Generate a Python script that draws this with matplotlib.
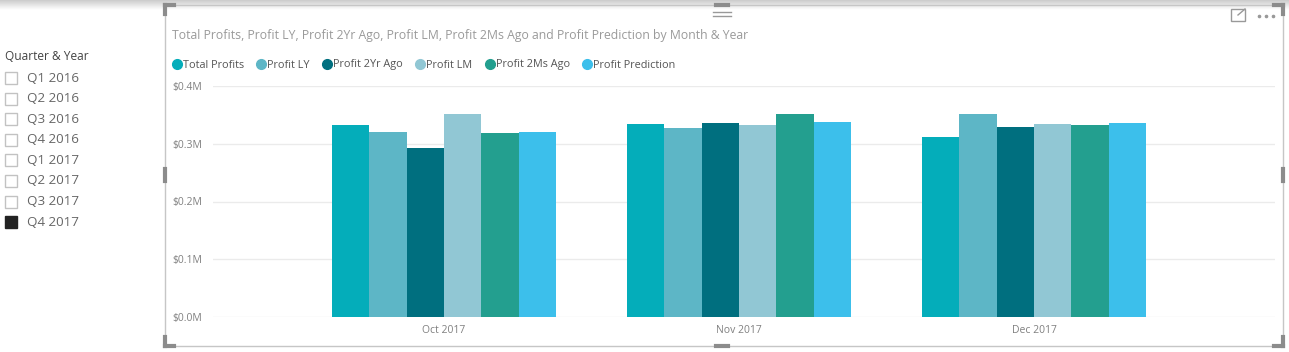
import matplotlib
matplotlib.use('Agg')
import matplotlib.pyplot as plt
import numpy as np
from matplotlib.lines import Line2D
from matplotlib.patches import Rectangle

plt.rcParams['font.family'] = ['Open Sans', 'DejaVu Sans']

# Data (values in $M)
months = ['Oct 2017', 'Nov 2017', 'Dec 2017']
series = ['Total Profits', 'Profit LY', 'Profit 2Yr Ago', 'Profit LM',
          'Profit 2Ms Ago', 'Profit Prediction']
total_profits = [0.332, 0.334, 0.312]
profit_ly = [0.321, 0.328, 0.351]
profit_2yr = [0.292, 0.336, 0.329]
profit_lm = [0.351, 0.332, 0.335]
profit_2ms = [0.319, 0.351, 0.332]
profit_pred = [0.321, 0.337, 0.336]
values = [total_profits, profit_ly, profit_2yr, profit_lm, profit_2ms, profit_pred]
colors = ['#04ADBA', '#5DB6C6', '#006F7F', '#91C7D4', '#239F8F', '#3CBFEB']
yticks = [0.0, 0.1, 0.2, 0.3, 0.4]
slicer_items = ['Q1 2016', 'Q2 2016', 'Q3 2016', 'Q4 2016',
                'Q1 2017', 'Q2 2017', 'Q3 2017', 'Q4 2017']
selected = 'Q4 2017'

W, H = 1289, 352
fig = plt.figure(figsize=(W / 100, H / 100), dpi=100)
fig.patch.set_facecolor('white')


def fx(px):
    return px / W


def fy(py):
    return 1 - py / H


# top grey shadow band
band = fig.add_axes([0, fy(10), 1, 10 / H])
band.imshow(np.linspace(0.80, 1.0, 20).reshape(-1, 1), cmap='gray', vmin=0, vmax=1,
            aspect='auto', extent=[0, 1, 0, 1])
band.axis('off')

# main chart
ax = fig.add_axes([fx(213), fy(317), fx(1275) - fx(213), fy(86) - fy(317)])
x = np.arange(len(months))
bw = 0.1266
for i, (name, vals) in enumerate(zip(series, values)):
    ax.bar(x + (i - 2.5) * bw, vals, bw, color=colors[i], label=name, zorder=2)

ax.set_xlim(-0.783, 2.817)
ax.set_ylim(0, 0.4)
ax.set_yticks(yticks)
ax.set_yticklabels([f'${v:.1f}M' for v in yticks])
ax.set_xticks(x)
ax.set_xticklabels(months)
ax.grid(axis='y', color='#EBEBEB', linewidth=1, zorder=0)
for s in ax.spines.values():
    s.set_visible(False)
ax.tick_params(length=0, colors='#808080', labelsize=7.5)
ax.tick_params(axis='y', pad=8)
ax.tick_params(axis='x', pad=6)
ax.set_facecolor('none')

# title and legend
fig.text(fx(172), fy(36), 'Total Profits, Profit LY, Profit 2Yr Ago, Profit LM, Profit 2Ms Ago and Profit Prediction by Month & Year',
         color='#9A9A9A', fontsize=8.8, va='center', ha='left')
handles = [Line2D([], [], marker='o', linestyle='none', markersize=7,
                  markerfacecolor=c, markeredgecolor=c) for c in colors]
fig.legend(handles, series, loc='center left', bbox_to_anchor=(fx(159), fy(65)),
           ncol=6, frameon=False, fontsize=7.8, handletextpad=-0.2,
           columnspacing=0.85, handlelength=1.5, labelcolor='#555555')

# visual frame with handles
fig.patches.append(Rectangle((fx(165), fy(346)), fx(1283) - fx(165), fy(5) - fy(346),
                             transform=fig.transFigure, fill=False,
                             edgecolor='#C6C6C6', linewidth=1))
hc = '#8C8C8C'
for cx, cy, dx, dy in [(165, 5, 1, 1), (1283, 5, -1, 1), (165, 346, 1, -1), (1283, 346, -1, -1)]:
    fig.lines.append(Line2D([fx(cx), fx(cx + dx * 9)], [fy(cy), fy(cy)],
                            transform=fig.transFigure, color=hc, linewidth=3))
    fig.lines.append(Line2D([fx(cx), fx(cx)], [fy(cy), fy(cy + dy * 9)],
                            transform=fig.transFigure, color=hc, linewidth=3))
for cx, cy, horiz in [(722, 5, True), (722, 346, True), (165, 175, False), (1283, 175, False)]:
    if horiz:
        fig.lines.append(Line2D([fx(cx - 6), fx(cx + 6)], [fy(cy), fy(cy)],
                                transform=fig.transFigure, color=hc, linewidth=3))
    else:
        fig.lines.append(Line2D([fx(cx), fx(cx)], [fy(cy - 6), fy(cy + 6)],
                                transform=fig.transFigure, color=hc, linewidth=3))
for yy in (12, 15.5):
    fig.lines.append(Line2D([fx(713), fx(731)], [fy(yy), fy(yy)],
                            transform=fig.transFigure, color='#999999', linewidth=1))
fig.patches.append(Rectangle((fx(1231), fy(21)), fx(14), 12 / H, transform=fig.transFigure,
                             fill=False, edgecolor='#999999', linewidth=1))
fig.lines.append(Line2D([fx(1238), fx(1245)], [fy(15), fy(9)],
                        transform=fig.transFigure, color='#999999', linewidth=1))
for dxp in (1259, 1266, 1273):
    fig.lines.append(Line2D([fx(dxp)], [fy(16)], transform=fig.transFigure, marker='o',
                            markersize=1.6, color='#999999', linestyle='none'))

# slicer on the left
fig.text(fx(5), fy(57), 'Quarter & Year', color='#444444', fontsize=8.6, va='center')
for k, item in enumerate(slicer_items):
    yy = 78 + k * 20.6
    on = item == selected
    fig.patches.append(Rectangle((fx(5), fy(yy + 6)), fx(12), 12 / H, transform=fig.transFigure,
                                 facecolor='#222222' if on else 'white',
                                 edgecolor='#222222' if on else '#C2C2C2', linewidth=1))
    fig.text(fx(27), fy(yy), item, color='#666666', fontsize=9.6, va='center')

fig.savefig('out.png', dpi=100)
